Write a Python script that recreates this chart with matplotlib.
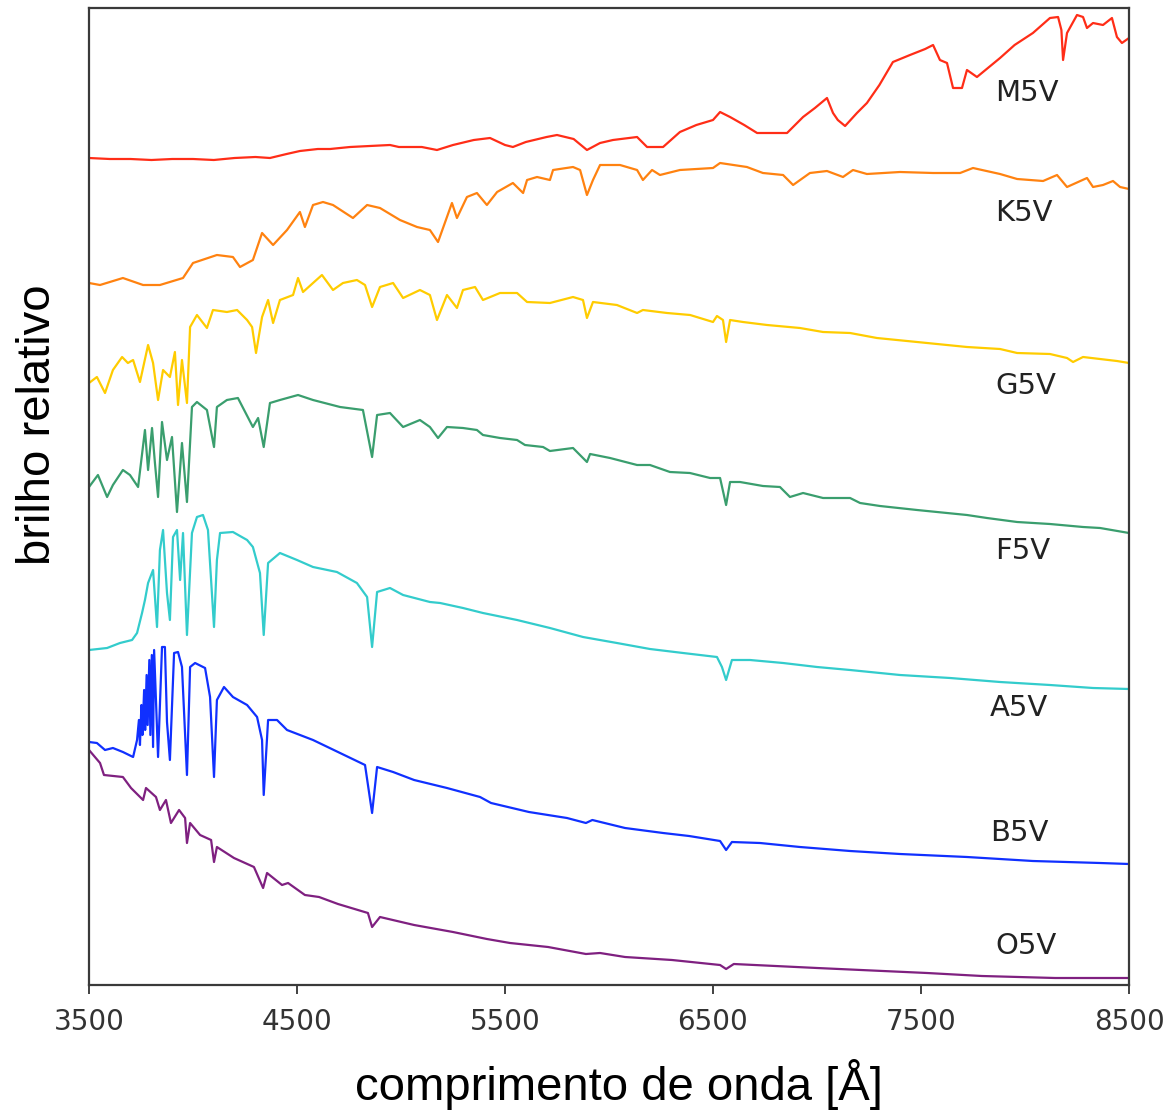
import matplotlib
matplotlib.use('Agg')
import matplotlib.pyplot as plt

plt.rcParams['font.family'] = ['Liberation Sans', 'DejaVu Sans']

# espectros: comprimento de onda [A] e brilho relativo (unid. arbitrarias)
wl_m5v = [3500, 3600, 3700, 3800, 3900, 4000, 4100, 4200, 4300, 4370, 4450, 4514, 4600, 4659,
          4755, 4850, 4947, 4990, 5100, 5173, 5250, 5350, 5428, 5500, 5538, 5600, 5700, 5750,
          5830, 5894, 5957, 6019, 6135, 6183, 6260, 6341, 6420, 6500, 6534, 6582, 6650, 6712,
          6856, 6933, 6990, 7048, 7077, 7100, 7135, 7192, 7240, 7300, 7365, 7447, 7520, 7558,
          7591, 7625, 7654, 7697, 7721, 7769, 7880, 7950, 8038, 8120, 8159, 8175, 8183, 8202,
          8250, 8279, 8298, 8327, 8375, 8418, 8442, 8466, 8500]
br_m5v = [827, 826, 826, 825, 826, 826, 825, 827, 828, 827, 831, 834, 836, 836,
          838, 839, 840, 838, 838, 835, 840, 845, 847, 840, 838, 843, 848, 850,
          846, 835, 842, 845, 848, 838, 838, 853, 860, 865, 873, 868, 860, 852,
          852, 868, 877, 887, 872, 865, 859, 872, 882, 900, 923, 930, 936, 940,
          925, 922, 897, 897, 915, 908, 927, 940, 952, 967, 968, 955, 925, 952,
          970, 968, 957, 962, 960, 967, 948, 942, 947]

wl_k5v = [3500, 3553, 3663, 3760, 3841, 3952, 4000, 4115, 4192, 4226, 4288, 4332, 4385, 4452,
          4514, 4538, 4577, 4625, 4673, 4769, 4837, 4899, 4995, 5077, 5139, 5178, 5245, 5269,
          5317, 5365, 5413, 5462, 5538, 5587, 5606, 5654, 5716, 5731, 5827, 5861, 5894, 5923,
          5957, 6053, 6135, 6163, 6207, 6245, 6341, 6500, 6534, 6663, 6740, 6837, 6885, 6966,
          7048, 7125, 7173, 7240, 7399, 7558, 7688, 7750, 7880, 7962, 8087, 8154, 8202, 8298,
          8327, 8375, 8423, 8457, 8500]
br_k5v = [702, 700, 707, 700, 700, 707, 722, 730, 728, 718, 725, 752, 740, 755,
          773, 758, 780, 783, 780, 767, 780, 777, 765, 758, 755, 743, 782, 767,
          788, 792, 780, 793, 802, 792, 805, 808, 805, 815, 818, 815, 790, 805,
          820, 820, 815, 805, 815, 810, 815, 817, 822, 818, 812, 810, 800, 812,
          814, 808, 815, 811, 813, 812, 812, 817, 811, 806, 804, 810, 798, 807,
          798, 800, 804, 798, 796]

wl_g5v = [3500, 3538, 3577, 3615, 3659, 3687, 3712, 3745, 3784, 3808, 3832, 3856, 3889, 3913,
          3928, 3947, 3971, 3986, 4019, 4067, 4096, 4163, 4212, 4260, 4284, 4303, 4332, 4361,
          4385, 4418, 4481, 4505, 4529, 4577, 4620, 4673, 4721, 4788, 4827, 4861, 4899, 4962,
          5010, 5091, 5139, 5173, 5221, 5269, 5298, 5356, 5394, 5476, 5558, 5606, 5716, 5827,
          5875, 5894, 5923, 6038, 6135, 6163, 6279, 6390, 6500, 6519, 6548, 6563, 6582, 6644,
          6760, 6918, 7029, 7159, 7288, 7481, 7721, 7880, 7962, 8120, 8202, 8231, 8279, 8442,
          8500]
br_g5v = [602, 608, 592, 615, 628, 622, 625, 603, 640, 622, 585, 615, 608, 633,
          580, 625, 582, 658, 670, 657, 675, 673, 675, 665, 658, 632, 668, 685,
          662, 685, 690, 707, 693, 702, 710, 695, 702, 705, 700, 678, 698, 702,
          687, 695, 690, 665, 690, 677, 695, 698, 685, 692, 692, 683, 682, 688,
          685, 667, 683, 680, 672, 675, 672, 670, 663, 669, 665, 643, 665, 663,
          660, 657, 653, 652, 647, 643, 638, 636, 632, 631, 627, 623, 628, 624,
          622]

wl_f5v = [3500, 3543, 3587, 3615, 3663, 3697, 3736, 3769, 3784, 3803, 3817, 3832, 3851, 3875,
          3899, 3923, 3947, 3971, 3995, 4019, 4067, 4101, 4115, 4163, 4216, 4288, 4313, 4340,
          4370, 4418, 4505, 4577, 4707, 4817, 4861, 4885, 4947, 5010, 5091, 5139, 5178, 5221,
          5298, 5365, 5394, 5476, 5558, 5596, 5683, 5716, 5827, 5894, 5909, 6005, 6135, 6197,
          6293, 6389, 6486, 6534, 6563, 6582, 6630, 6740, 6822, 6870, 6933, 7029, 7159, 7207,
          7303, 7481, 7721, 7817, 7962, 8120, 8279, 8361, 8500]
br_f5v = [498, 510, 488, 500, 515, 510, 498, 555, 515, 557, 522, 488, 563, 525,
          548, 473, 542, 483, 578, 583, 575, 538, 578, 585, 587, 558, 567, 538,
          582, 585, 590, 585, 578, 575, 528, 570, 572, 558, 565, 558, 547, 558,
          557, 555, 550, 547, 545, 540, 538, 534, 537, 523, 531, 527, 520, 520,
          513, 512, 507, 507, 480, 503, 503, 499, 498, 488, 492, 487, 487, 482,
          479, 475, 470, 467, 463, 461, 458, 457, 452]

wl_a5v = [3500, 3587, 3649, 3707, 3731, 3755, 3769, 3784, 3808, 3827, 3841, 3856, 3875, 3889,
          3904, 3923, 3938, 3952, 3971, 3995, 4019, 4048, 4072, 4101, 4115, 4130, 4192, 4260,
          4288, 4322, 4340, 4361, 4418, 4500, 4577, 4692, 4788, 4837, 4861, 4885, 4947, 5010,
          5139, 5188, 5298, 5394, 5558, 5716, 5875, 6038, 6197, 6356, 6519, 6543, 6563, 6591,
          6678, 6837, 7000, 7159, 7399, 7640, 7880, 8120, 8327, 8500]
br_a5v = [335, 337, 342, 345, 352, 372, 385, 402, 415, 358, 435, 455, 392, 365,
          448, 455, 405, 452, 350, 452, 468, 470, 455, 358, 425, 452, 453, 445,
          438, 412, 350, 422, 432, 425, 418, 413, 402, 388, 338, 393, 397, 390,
          383, 382, 377, 372, 365, 357, 348, 342, 336, 332, 328, 318, 305, 325,
          325, 322, 318, 315, 310, 307, 303, 300, 297, 296]

wl_b5v = [3500, 3538, 3577, 3615, 3663, 3712, 3731, 3740, 3745, 3752, 3757, 3765, 3770, 3777,
          3782, 3790, 3795, 3802, 3808, 3813, 3832, 3851, 3865, 3875, 3889, 3909, 3928, 3947,
          3971, 3986, 4010, 4058, 4082, 4101, 4115, 4149, 4192, 4260, 4308, 4332, 4340, 4361,
          4404, 4452, 4577, 4707, 4827, 4861, 4885, 4962, 5063, 5221, 5380, 5433, 5615, 5798,
          5889, 5920, 6077, 6260, 6385, 6534, 6563, 6591, 6726, 6918, 7159, 7399, 7721, 8038,
          8361, 8500]
br_b5v = [243, 242, 235, 237, 233, 228, 245, 265, 240, 280, 250, 295, 255, 310,
          260, 325, 250, 330, 238, 335, 228, 338, 338, 263, 225, 332, 333, 318,
          210, 318, 322, 317, 288, 208, 285, 298, 288, 280, 268, 245, 190, 265,
          265, 255, 245, 232, 220, 172, 218, 213, 205, 197, 188, 182, 173, 167,
          162, 165, 157, 152, 149, 144, 135, 143, 142, 138, 134, 131, 128, 124,
          122, 121]

wl_o5v = [3500, 3553, 3572, 3663, 3702, 3760, 3774, 3822, 3841, 3870, 3894, 3933, 3962, 3971,
          3986, 4034, 4087, 4101, 4115, 4197, 4293, 4337, 4356, 4428, 4457, 4538, 4606, 4697,
          4841, 4861, 4899, 5063, 5250, 5413, 5524, 5707, 5889, 5957, 6077, 6303, 6534, 6563,
          6600, 7000, 7529, 7793, 8145, 8500]
br_o5v = [235, 222, 210, 208, 197, 185, 197, 188, 175, 185, 162, 175, 167, 142,
          162, 150, 145, 123, 138, 127, 118, 97, 112, 100, 102, 90, 88, 81,
          72, 58, 68, 60, 53, 46, 42, 38, 31, 32, 28, 25, 20, 16,
          21, 17, 12, 9, 7, 7]

tipos = ['M5V', 'K5V', 'G5V', 'F5V', 'A5V', 'B5V', 'O5V']
cores = ['#ff2d17', '#ff8210', '#ffcc00', '#3a9e6e', '#33cccc', '#1030ff', '#7f2080']
rotulo_x = [7856, 7856, 7856, 7856, 7832, 7832, 7856]
rotulo_y = [892, 772, 599, 434, 277, 152, 39]

espectros = [(wl_m5v, br_m5v), (wl_k5v, br_k5v), (wl_g5v, br_g5v), (wl_f5v, br_f5v),
             (wl_a5v, br_a5v), (wl_b5v, br_b5v), (wl_o5v, br_o5v)]

fig = plt.figure(figsize=(11.75, 11.11), dpi=100)
ax = fig.add_axes([89 / 1175, 1 - 985 / 1111, 1040 / 1175, 977 / 1111])

for (wl, br), cor, nome, lx, ly in zip(espectros, cores, tipos, rotulo_x, rotulo_y):
    ax.plot(wl, br, color=cor, linewidth=1.6)
    ax.text(lx, ly, nome, color='#222222', fontsize=21, family=['DejaVu Sans'],
            ha='left', va='center')

ax.set_xlim(3500, 8500)
ax.set_ylim(0, 977)
ax.set_xticks([3500, 4500, 5500, 6500, 7500, 8500])
ax.set_yticks([])
ax.tick_params(axis='x', direction='out', length=6.5, width=1.3, pad=10,
               labelsize=20, colors='#333333')
for lab in ax.get_xticklabels():
    lab.set_family(['DejaVu Sans'])
for sp in ax.spines.values():
    sp.set_linewidth(1.6)
    sp.set_color('#3a3a3a')

ax.set_xlabel('comprimento de onda [Å]', fontsize=34)
ax.xaxis.set_label_coords(0.51, -0.076)
ax.set_ylabel('brilho relativo', fontsize=34)
ax.yaxis.set_label_coords(-0.028, 0.574)

plt.savefig('out.png', dpi=100)
